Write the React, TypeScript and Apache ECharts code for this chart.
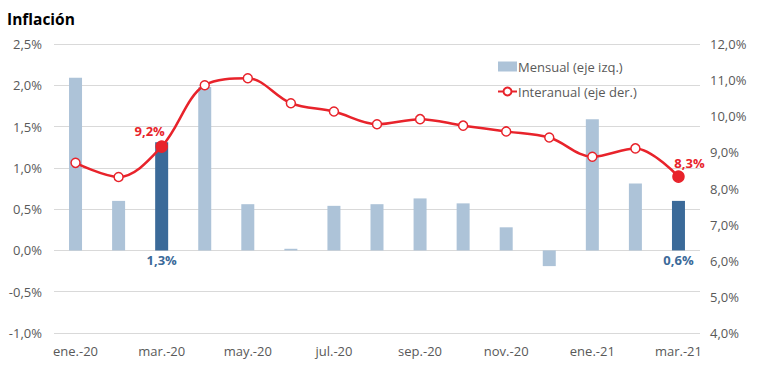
import React, { useEffect, useRef } from "react";
import * as echarts from "echarts";

const categories = [
  "ene.-20", "feb.-20", "mar.-20", "abr.-20", "may.-20", "jun.-20", "jul.-20", "ago.-20",
  "sep.-20", "oct.-20", "nov.-20", "dic.-20", "ene.-21", "feb.-21", "mar.-21",
];
const mensual = [2.09, 0.6, 1.31, 1.98, 0.56, 0.02, 0.54, 0.56, 0.63, 0.57, 0.28, -0.19, 1.59, 0.81, 0.6];
const interanual = [8.71, 8.32, 9.16, 10.86, 11.05, 10.36, 10.13, 9.78, 9.92, 9.74, 9.58, 9.41, 8.88, 9.11, 8.33];
const highlighted = [2, 14];
const leftTicks = { min: -1, max: 2.5, interval: 0.5 };
const rightTicks = { min: 4, max: 12, interval: 1 };

const RED = "#e8232b";
const LIGHT = "#adc3d8";
const DARK = "#3b6a99";
const GRAY = "#595959";
const FONT = "Open Sans";

const fmt = (v: number) => v.toFixed(1).replace(".", ",") + "%";

export default function App() {
  const ref = useRef<HTMLDivElement>(null);
  useEffect(() => {
    if (!ref.current) return;
    const chart = echarts.init(ref.current, null, { renderer: "svg" });
    const barData = mensual.map((v, i) =>
      highlighted.includes(i)
        ? {
            value: v,
            itemStyle: { color: DARK },
            label: {
              show: true,
              position: "bottom",
              distance: 3,
              formatter: () => fmt(v),
              color: DARK,
              fontWeight: "bold",
              fontSize: 13,
              fontFamily: FONT,
            },
          }
        : v
    );
    const lineData = interanual.map((v, i) =>
      highlighted.includes(i)
        ? {
            value: v,
            symbolSize: 11,
            itemStyle: { color: RED, borderColor: RED },
            label: {
              show: true,
              position: "top",
              distance: 3,
              offset: i === 2 ? [-12, 0] : [11, 2],
              formatter: () => fmt(v),
              color: RED,
              fontWeight: "bold",
              fontSize: 13,
              fontFamily: FONT,
            },
          }
        : v
    );
    chart.setOption({
      animation: false,
      textStyle: { fontFamily: FONT },
      title: {
        text: "Inflación",
        left: 2,
        top: 6,
        textStyle: { fontSize: 15.5, fontWeight: "bold", color: "#000", fontFamily: FONT },
      },
      legend: {
        orient: "vertical",
        left: 492,
        top: 55,
        itemWidth: 19,
        itemHeight: 10,
        itemGap: 12,
        textStyle: { color: GRAY, fontSize: 13, fontFamily: FONT, padding: [0, 0, 0, -4] },
        data: [
          { name: "Mensual (eje izq.)", icon: "rect" },
          { name: "Interanual (eje der.)" },
        ],
      },
      grid: { left: 54, right: 62, top: 44, bottom: 34, containLabel: false },
      xAxis: {
        type: "category",
        data: categories,
        axisLine: { show: false },
        axisTick: { show: false },
        axisLabel: { interval: 1, color: GRAY, fontSize: 13, margin: 11, fontFamily: FONT },
      },
      yAxis: [
        {
          type: "value",
          ...leftTicks,
          axisLine: { show: false },
          axisTick: { show: false },
          axisLabel: { formatter: fmt, color: GRAY, fontSize: 13, margin: 12, fontFamily: FONT },
          splitLine: { lineStyle: { color: "#d9d9d9", width: 1 } },
        },
        {
          type: "value",
          ...rightTicks,
          position: "right",
          axisLine: { show: false },
          axisTick: { show: false },
          axisLabel: { formatter: fmt, color: GRAY, fontSize: 13, margin: 10, fontFamily: FONT },
          splitLine: { show: false },
        },
      ],
      series: [
        {
          name: "Mensual (eje izq.)",
          type: "bar",
          yAxisIndex: 0,
          barWidth: 13,
          itemStyle: { color: LIGHT },
          data: barData,
        },
        {
          name: "Interanual (eje der.)",
          type: "line",
          yAxisIndex: 1,
          smooth: 0.35,
          symbol: "circle",
          symbolSize: 9,
          lineStyle: { color: RED, width: 2.5 },
          itemStyle: { color: "#fff", borderColor: RED, borderWidth: 1.5 },
          data: lineData,
          z: 3,
        },
      ],
    });
    return () => chart.dispose();
  }, []);
  return <div ref={ref} style={{ position: "absolute", left: 0, top: 0, width: 762, height: 367 }} />;
}
